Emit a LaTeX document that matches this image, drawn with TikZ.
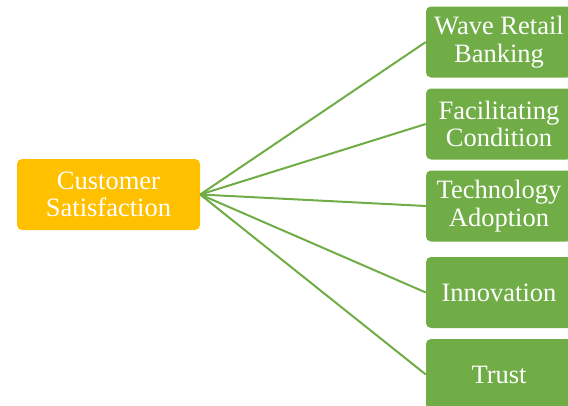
\documentclass[tikz,border=0pt]{standalone}
\usepackage{fontspec}
\setmainfont{Liberation Serif}
\usepackage{tikz}
\usetikzlibrary{positioning}
\definecolor{GoldBox}{HTML}{FFC000}
\definecolor{LeafGreen}{HTML}{70AD47}
\tikzset{
  rootbox/.style={rectangle, rounded corners=5pt, fill=GoldBox, text=white, minimum width=183pt, minimum height=71pt, font=\fontsize{26.5}{27.5}\selectfont, align=center, inner sep=0pt},
  factorbox/.style={rectangle, rounded corners=5pt, fill=LeafGreen, text=white, minimum width=146pt, minimum height=71pt, font=\fontsize{26.5}{27.5}\selectfont, align=center, inner sep=0pt},
  link/.style={LeafGreen, line width=2pt}
}
\begin{document}
\begin{tikzpicture}[x=1pt, y=-1pt]
  \useasboundingbox (0,0) rectangle (568,405);
  \clip (0,0) rectangle (568,405);

  \node[rootbox] (cs) at (108.5,194.5) {Customer\\Satisfaction};

  \node[factorbox] (wrb) at (499,42) {Wave Retail\\Banking};
  \node[factorbox] (fc) at (499,124) {Facilitating\\Condition};
  \node[factorbox] (ta) at (499,206) {Technology\\Adoption};
  \node[factorbox] (inn) at (499,292.5) {Innovation};
  \node[factorbox] (tr) at (499,374.5) {Trust};

  \foreach \f in {wrb,fc,ta,inn,tr}
    \draw[link] (cs.east) -- (\f.west);
\end{tikzpicture}
\end{document}
